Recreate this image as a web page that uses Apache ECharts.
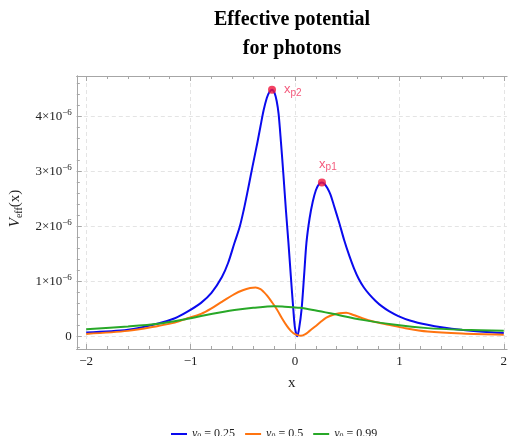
<!DOCTYPE html>
<html>
<head>
<meta charset="utf-8">
<script src="https://cdn.jsdelivr.net/npm/echarts@6/dist/echarts.min.js"></script>
<style>
  html, body { margin: 0; padding: 0; background: #fff; }
  #chart { width: 510px; height: 436px; }
</style>
</head>
<body>
<div id="chart"></div>
<script>
// values of V_eff in units of 1e-6
var blueX = [-2.0, -1.6, -1.31, -1.15, -1.03, -0.9, -0.8, -0.7, -0.64, -0.58, -0.53, -0.49, -0.455, -0.425, -0.39, -0.36, -0.33, -0.3, -0.27, -0.245, -0.22, -0.195, -0.175, -0.157, -0.135, -0.11, -0.087, -0.063, -0.04, -0.016, 0.0, 0.022, 0.04, 0.063, 0.087, 0.11, 0.14, 0.17, 0.2, 0.23, 0.258, 0.285, 0.31, 0.34, 0.37, 0.425, 0.47, 0.52, 0.565, 0.61, 0.66, 0.71, 0.77, 0.83, 0.9, 0.99, 1.1, 1.27, 1.42, 1.59, 1.8, 2.0];
var blueY = [0.07, 0.12, 0.235, 0.33, 0.45, 0.61, 0.79, 1.08, 1.34, 1.70, 1.99, 2.31, 2.63, 2.92, 3.25, 3.53, 3.83, 4.12, 4.34, 4.45, 4.49, 4.43, 4.28, 4.05, 3.55, 2.92, 2.3, 1.71, 1.1, 0.49, 0.15, 0.0, 0.15, 0.49, 1.1, 1.71, 2.15, 2.45, 2.66, 2.77, 2.80, 2.77, 2.70, 2.58, 2.40, 2.06, 1.76, 1.47, 1.24, 1.05, 0.89, 0.77, 0.65, 0.55, 0.46, 0.37, 0.29, 0.21, 0.16, 0.12, 0.085, 0.06];

var orangeX = [-2.0, -1.6, -1.31, -1.15, -1.03, -0.9, -0.8, -0.71, -0.58, -0.5, -0.43, -0.377, -0.33, -0.3, -0.267, -0.22, -0.173, -0.125, -0.078, -0.04, 0.0, 0.055, 0.1, 0.14, 0.2, 0.25, 0.3, 0.36, 0.425, 0.49, 0.56, 0.645, 0.75, 0.896, 1.05, 1.27, 1.6, 2.0];
var orangeY = [0.045, 0.10, 0.19, 0.25, 0.33, 0.41, 0.51, 0.62, 0.77, 0.84, 0.88, 0.89, 0.86, 0.81, 0.74, 0.62, 0.49, 0.33, 0.19, 0.10, 0.04, 0.01, 0.04, 0.10, 0.19, 0.27, 0.34, 0.39, 0.42, 0.43, 0.39, 0.33, 0.27, 0.21, 0.15, 0.087, 0.05, 0.03];

var greenX = [-2.0, -1.6, -1.31, -1.03, -0.9, -0.68, -0.58, -0.4, -0.2, -0.1, 0.047, 0.2, 0.36, 0.645, 0.96, 1.27, 1.6, 2.0];
var greenY = [0.13, 0.18, 0.23, 0.32, 0.37, 0.45, 0.48, 0.52, 0.55, 0.54, 0.52, 0.47, 0.41, 0.30, 0.21, 0.15, 0.12, 0.10];

var peakX = [-0.22, 0.258];
var peakY = [4.49, 2.80];
var peakNames = ['p2', 'p1'];

var seriesNames = ['0.25', '0.5', '0.99'];
var xMajor = [-2, -1, 0, 1, 2];
var yMajor = [0, 1, 2, 3, 4];

function zip(xs, ys) {
    return xs.map(function (x, i) { return [x, ys[i]]; });
}
function steps(a, b, d) {
    var out = [];
    for (var v = a; v <= b + 1e-9; v += d) out.push(Math.round(v * 100) / 100);
    return out;
}

var xMinor = steps(-2, 2, 0.2);
var yMinor = steps(-0.2, 4.6, 0.2);

var myChart = echarts.init(document.getElementById('chart'));

var serif = 'Liberation Serif';
var frame = '#a6a6a6';
var xMin = -2.09, xMax = 2.03, yMin = -0.23, yMax = 4.74;

function xAxisDef(pos, ticks, len, labels, split) {
    return {
        type: 'value', position: pos, min: xMin, max: xMax,
        axisLine: { show: true, onZero: false, lineStyle: { color: frame } },
        axisTick: { show: true, inside: true, length: len, customValues: ticks, lineStyle: { color: frame } },
        axisLabel: labels ? {
            show: true, customValues: xMajor, fontFamily: serif, fontSize: 13, color: '#222', margin: 6,
            formatter: function (v) { return v < 0 ? '\u2212' + (-v) : String(v); }
        } : { show: false },
        splitLine: { show: split, lineStyle: { color: '#e4e4e4', type: [4, 3] } }
    };
}
function yAxisDef(ticks, len, labels, split) {
    return {
        type: 'value', position: 'left', min: yMin, max: yMax,
        axisLine: { show: true, onZero: false, lineStyle: { color: frame } },
        axisTick: { show: true, inside: true, length: len, customValues: ticks, lineStyle: { color: frame } },
        axisLabel: labels ? {
            show: true, customValues: yMajor, margin: 5,
            formatter: function (v) { return v === 0 ? '{a|0}' : '{a|' + v + '\u00d710}{b|\u22126}'; },
            rich: {
                a: { fontFamily: serif, fontSize: 13, color: '#222' },
                b: { fontFamily: serif, fontSize: 9, color: '#222', verticalAlign: 'bottom', padding: [0, 0, 8, 0] }
            }
        } : { show: false },
        splitLine: { show: split, lineStyle: { color: '#e4e4e4', type: [4, 3] } }
    };
}

var xAxes = [
    xAxisDef('bottom', xMajor, 5, true, true),
    xAxisDef('bottom', xMinor, 3, false, false),
    xAxisDef('top', xMajor, 5, false, false),
    xAxisDef('top', xMinor, 3, false, false)
];
xAxes[0].name = 'x';
xAxes[0].nameLocation = 'middle';
xAxes[0].nameGap = 27;
xAxes[0].nameTextStyle = { fontFamily: serif, fontSize: 15, color: '#222' };

var yAxes = [
    yAxisDef(yMajor, 5, true, true),
    yAxisDef(yMinor, 3, false, false)
];
yAxes[0].name = '{v|V}{s|eff}{n|(x)}';
yAxes[0].nameLocation = 'middle';
yAxes[0].nameRotate = 90;
yAxes[0].nameGap = 41;
yAxes[0].nameTextStyle = {
    padding: [0, 0, 0, 8],
    rich: {
        v: { fontFamily: serif, fontStyle: 'italic', fontSize: 15, color: '#222' },
        s: { fontFamily: serif, fontSize: 10, color: '#222', verticalAlign: 'top', padding: [8, 0, 0, 0] },
        n: { fontFamily: serif, fontSize: 15, color: '#222' }
    }
};

function lineSeries(name, xs, ys, color) {
    return {
        name: name, type: 'line', xAxisIndex: 0, yAxisIndex: 0,
        data: zip(xs, ys), smooth: 0.3, showSymbol: false, symbol: 'none',
        lineStyle: { color: color, width: 2 }, itemStyle: { color: color }
    };
}

var option = {
    animation: false,
    title: {
        text: 'Effective potential\nfor photons',
        left: 287, top: 0, textAlign: 'center',
        textStyle: { fontFamily: serif, fontWeight: 'bold', fontSize: 20, lineHeight: 29, color: '#000' }
    },
    grid: { left: 73, top: 76, right: 0, bottom: 87, containLabel: false },
    legend: {
        left: 166, top: 423, itemGap: 10, itemWidth: 16, itemHeight: 2, icon: 'rect',
        data: seriesNames.map(function (n) { return { name: n }; }),
        formatter: function (n) { return '{i|y}{s|0}{t| = ' + n + '}'; },
        textStyle: {
            rich: {
                i: { fontFamily: serif, fontStyle: 'italic', fontSize: 12, color: '#222' },
                s: { fontFamily: serif, fontSize: 8, color: '#222', verticalAlign: 'top', padding: [6, 0, 0, 0] },
                t: { fontFamily: serif, fontSize: 12, color: '#222' }
            }
        }
    },
    xAxis: xAxes,
    yAxis: yAxes,
    series: [
        lineSeries(seriesNames[0], blueX, blueY, '#0a0aee'),
        lineSeries(seriesNames[1], orangeX, orangeY, '#ff7410'),
        lineSeries(seriesNames[2], greenX, greenY, '#28a828'),
        {
            type: 'scatter', symbolSize: 8, z: 5,
            itemStyle: { color: '#f0143c' },
            data: zip(peakX, peakY).map(function (p, i) {
                return {
                    value: p,
                    label: {
                        show: true,
                        position: i === 0 ? 'right' : 'top',
                        distance: i === 0 ? 8 : 6,
                        offset: i === 0 ? [0, 0] : [6, 0],
                        formatter: '{x|x}{s|' + peakNames[i] + '}',
                        rich: {
                            x: { fontFamily: 'Liberation Sans', fontSize: 13, color: '#f0305a' },
                            s: { fontFamily: 'Liberation Sans', fontSize: 10, color: '#f0305a', verticalAlign: 'top', padding: [7, 0, 0, 0] }
                        }
                    }
                };
            })
        }
    ]
};

myChart.setOption(option);
</script>
</body>
</html>
